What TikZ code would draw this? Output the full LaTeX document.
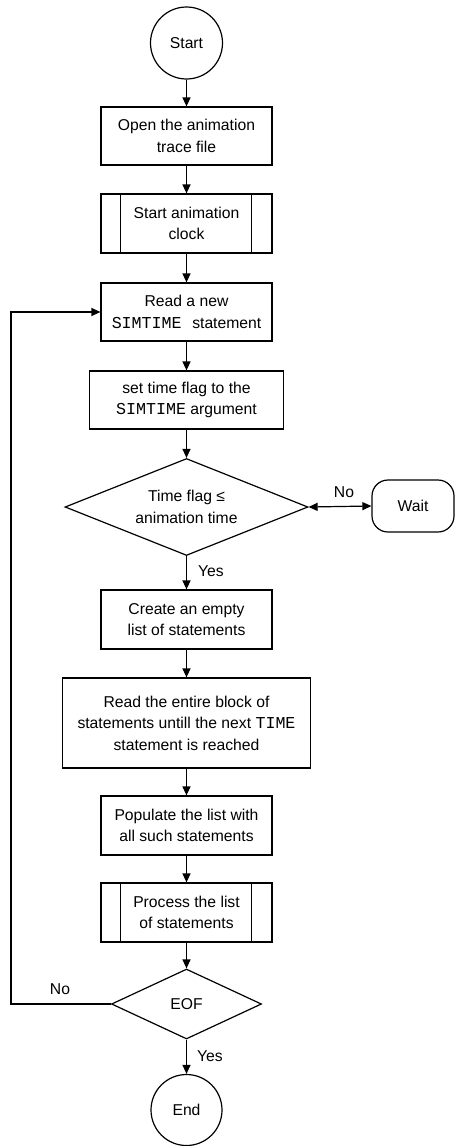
\documentclass[tikz,border=0pt]{standalone}
\usepackage{fontspec}
\setmainfont{Liberation Sans}
\setmonofont[Scale=1.06]{Liberation Mono}
\usetikzlibrary{shapes.geometric,arrows.meta}

\tikzset{
  base/.style={draw, line width=1.2pt, inner sep=0pt, align=center,
    font=\fontsize{15.7}{21.5}\selectfont},
  procbox/.style={base, rectangle, minimum width=#1, minimum height=58pt},
  procbox/.default=171pt,
  terminal/.style={base, circle, minimum size=72pt},
  decision/.style={base, diamond, minimum width=#1},
  waitbox/.style={base, rectangle, rounded corners=16pt, minimum width=82pt, minimum height=52pt},
  flow/.style={line width=1.2pt, -{Triangle[length=9pt,width=8pt]}},
  both/.style={line width=1.2pt, {Triangle[length=9pt,width=8pt]}-{Triangle[length=9pt,width=8pt]}},
  lbl/.style={font=\fontsize{15.7}{18}\selectfont, inner sep=0pt},
}

\begin{document}
\begin{tikzpicture}[x=1pt, y=-1pt]
\useasboundingbox (0,0) rectangle (455,1146);

% terminals
\node[terminal] (start) at (186.5,43) {Start};
\node[terminal, minimum size=71pt] (end) at (186.5,1110) {End};

% process steps
\node[procbox] (open) at (186.5,136) {Open the animation\\trace file};
\node[procbox, minimum height=59pt] (clock) at (186.5,223.5) {Start animation\\clock};
\node[procbox] (readnew) at (186.5,312) {Read a new\\\texttt{SIMTIME}\hspace{0.4em} statement};
\node[procbox=194pt] (setflag) at (186.5,400) {set time flag to the\\\texttt{SIMTIME} argument};
\node[decision=243pt, minimum height=97pt,
      label={[lbl, align=center, font=\fontsize{15.7}{21.5}\selectfont]center:Time flag ≤\\animation time}]
      (check) at (186.5,507) {};
\node[waitbox] (wait) at (413,506) {Wait};
\node[procbox, minimum height=59pt] (create) at (186.5,619.5) {Create an empty\\list of statements};
\node[procbox=248pt, minimum height=90pt] (readblock) at (186.5,723)
  {Read the entire block of\\statements untill the next \texttt{TIME}\\statement is reached};
\node[procbox, minimum height=59pt] (populate) at (186.5,825.5) {Populate the list with\\all such statements};
\node[procbox, minimum height=59pt] (process) at (186.5,912.5) {Process the list\\of statements};
\node[decision=150pt, minimum height=70pt,
      label={[lbl]center:EOF}] (eof) at (186.5,1004) {};

% side bars of the predefined-process boxes
\foreach \n in {clock, process} {
  \draw[line width=1.2pt] ([xshift=20pt]\n.north west) -- ([xshift=20pt]\n.south west);
  \draw[line width=1.2pt] ([xshift=-21pt]\n.north east) -- ([xshift=-21pt]\n.south east);
}

% loop-back corners
\coordinate (loopbot) at (11,1004);
\coordinate (looptop) at (11,312);

% connectors
\draw[flow] (start) -- (open);
\draw[flow] (open) -- (clock);
\draw[flow] (clock) -- (readnew);
\draw[flow] (readnew) -- (setflag);
\draw[flow] (setflag) -- (check.north);
\draw[both] (check.east) -- (wait.west);
\draw[flow] (check.south) -- (create);
\draw[flow] (create) -- (readblock);
\draw[flow] (readblock) -- (populate);
\draw[flow] (populate) -- (process);
\draw[flow] (process) -- (eof.north);
\draw[flow] (eof.south) -- (end);
\draw[flow] (eof.west) -- (loopbot) -- (looptop) -- (readnew.west);

% branch labels
\node[lbl] (nowait) at (344,492) {No};
\node[lbl] (yescheck) at (211,571) {Yes};
\node[lbl] (noeof) at (60,989) {No};
\node[lbl] (yeseof) at (210,1056) {Yes};
\end{tikzpicture}
\end{document}
